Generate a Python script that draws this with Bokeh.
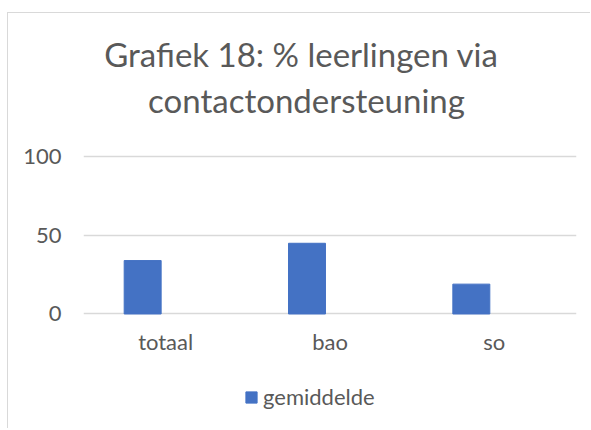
from bokeh.plotting import figure
from bokeh.models import ColumnDataSource, Legend, LegendItem, FactorRange, Range1d, Label
from bokeh.transform import dodge
from bokeh.embed import file_html
from bokeh.resources import INLINE

categories = ["totaal", "bao", "so"]
gemiddelde = [34, 45, 19]
y_ticks = [0, 50, 100]
title_lines = ["Grafiek 18: % leerlingen via", "contactondersteuning"]
series_name = "gemiddelde"

FONT = "Lato"
TXT = "#595959"
GRID = "#d9d9d9"
BAR = "#4472C4"

src = ColumnDataSource(dict(cat=categories, val=gemiddelde))

# the frame covers the whole height; y range chosen so that 0..100 sits where the reference has it
p = figure(width=583, height=416, output_backend="svg", toolbar_location=None,
           x_range=FactorRange(*categories, range_padding=0), y_range=Range1d(-73.5, 191.2),
           min_border_left=75, min_border_right=15, min_border_top=0, min_border_bottom=0)
p.title = None
p.outline_line_color = None
p.background_fill_color = "white"
p.border_fill_color = "white"
p.styles = {"border-top": "1px solid #d9d9d9", "border-left": "1px solid #d9d9d9",
            "margin-top": "12px", "margin-left": "7px"}

r = p.vbar(x=dodge("cat", -0.14, range=p.x_range), top="val", bottom=0, width=0.225,
           source=src, fill_color=BAR, line_color=BAR)

p.xgrid.grid_line_color = None
p.ygrid.grid_line_color = GRID
p.ygrid.grid_line_width = 1.5
p.yaxis.ticker = y_ticks
p.xaxis.fixed_location = 0
for ax in (p.xaxis[0], p.yaxis[0]):
    ax.axis_line_color = None
    ax.major_tick_line_color = None
    ax.minor_tick_line_color = None
    ax.major_tick_out = 0
    ax.major_tick_in = 0
    ax.major_label_text_font = FONT
    ax.major_label_text_font_size = "22px"
    ax.major_label_text_color = TXT
p.yaxis.major_label_standoff = 22
p.xaxis.major_label_standoff = 14

for txt, xx, yy in zip(title_lines, [218, 223], [376, 330]):
    p.add_layout(Label(x=xx, y=yy, x_units="screen", y_units="screen", text=txt,
                       text_align="center", text_baseline="alphabetic",
                       text_font=FONT, text_font_size="33px", text_color=TXT))

legend = Legend(items=[LegendItem(label=series_name, renderers=[r])],
                location=(161, 19), orientation="horizontal",
                glyph_width=14, glyph_height=14, label_text_font=FONT,
                label_text_font_size="22px", label_text_color=TXT,
                border_line_color=None, background_fill_alpha=0,
                padding=0, margin=0, label_standoff=5)
p.add_layout(legend, "center")

open("out.html", "w").write(file_html(p, INLINE))
